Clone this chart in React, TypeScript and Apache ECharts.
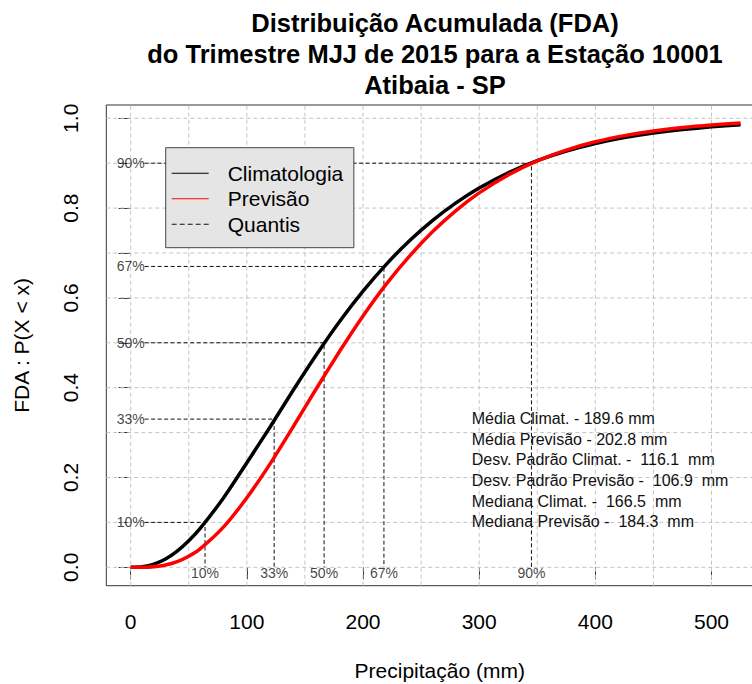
import React, { useEffect, useRef } from "react";
import * as echarts from "echarts";

// Precipitation axis positions (mm) at which the curves were read
const precipMm = [0, 10, 20, 30, 40, 50, 60, 80, 100, 120, 140, 160, 180, 200, 220, 240, 260, 280, 300, 325, 350, 375, 400, 425, 450, 475, 500, 525];
// Cumulative probability, climatology (black)
const climatologia = [0, 0.0012, 0.0069, 0.0184, 0.036, 0.0591, 0.0871, 0.1549, 0.2328, 0.3125, 0.3948, 0.4739, 0.5479, 0.6149, 0.6747, 0.7273, 0.7728, 0.8117, 0.8448, 0.8788, 0.9057, 0.9271, 0.944, 0.957, 0.9671, 0.9749, 0.9809, 0.9855];
// Cumulative probability, forecast (red)
const previsao = [0, 0.0001, 0.0014, 0.0051, 0.0126, 0.0246, 0.0415, 0.0899, 0.155, 0.2304, 0.3136, 0.3987, 0.4816, 0.5597, 0.6305, 0.6929, 0.7477, 0.7945, 0.8339, 0.8739, 0.9052, 0.9292, 0.9476, 0.9614, 0.9718, 0.9795, 0.9851, 0.9893];

// Quantiles of the climatology
const quantilLevels = [0.1, 0.33, 0.5, 0.67, 0.9];
const quantilValues = [64, 123.5, 166.5, 218, 345];
const quantilLabels = ["10%", "33%", "50%", "67%", "90%"];
const quantilLineStart = 12;
const bottomLabelY = -0.0127;

// Axis ranges, ticks and grid
const xMin = -21;
const xMax = 560;
const yMin = -0.041;
const yMax = 1.0296;
const xTicks = [0, 100, 200, 300, 400, 500];
const xGrid = [0, 50, 100, 150, 200, 250, 300, 350, 400, 450, 500, 550];
const yTicks = [0, 0.1, 0.2, 0.3, 0.4, 0.5, 0.6, 0.7, 0.8, 0.9, 1.0];
const yLabels = [0, 0.2, 0.4, 0.6, 0.8, 1.0];

const titleLines = [
  "Distribuição Acumulada (FDA)",
  "do Trimestre MJJ de 2015 para a Estação 10001",
  "Atibaia - SP",
];
const statsLines = [
  "Média Climat. - 189.6 mm",
  "Média Previsão - 202.8 mm",
  "Desv. Padrão Climat. -  116.1  mm",
  "Desv. Padrão Previsão -  106.9  mm",
  "Mediana Climat. -  166.5  mm",
  "Mediana Previsão -  184.3  mm",
];
const legendNames = ["Climatologia", "Previsão", "Quantis"];

const FONT = '"Liberation Sans", Arial, Helvetica, sans-serif';
const LINE_ICON = "path://M0,0h37v1h-37z";
const DASH_ICON = "path://M0,0h5v1h-5zM8,0h5v1h-5zM16,0h5v1h-5zM24,0h5v1h-5zM32,0h5v1h-5z";

export default function App() {
  const ref = useRef<HTMLDivElement>(null);

  useEffect(() => {
    if (!ref.current) return;
    const chart = echarts.init(ref.current, null, { renderer: "svg" });

    const gridV: any[] = [];
    xGrid.forEach((v) => {
      gridV.push([v, yMin], [v, yMax], ["-", "-"]);
    });
    const gridH: any[] = [];
    yTicks.forEach((v) => {
      gridH.push([xMin, v], [xMax, v], ["-", "-"]);
    });

    const quantilSeries = quantilLevels.map((lvl, i) => ({
      type: "line",
      name: "Quantis",
      color: "#111",
      data: [
        [quantilLineStart, lvl],
        [quantilValues[i], lvl],
        [quantilValues[i], 0],
      ],
      symbol: "none",
      silent: true,
      z: 3,
      lineStyle: { color: "#111", width: 1, type: [4, 2.5] },
    }));

    const gridStyle = { color: "#C4C4C4", type: [4, 3], width: 1 };

    const option: any = {
      animation: false,
      textStyle: { fontFamily: FONT },
      grid: {
        left: 106.3,
        top: 105,
        width: 674.9,
        height: 480.7,
        outerBoundsMode: "none",
        containLabel: false,
        show: true,
        borderColor: "#333",
        borderWidth: 1,
        backgroundColor: "transparent",
      },
      legend: {
        data: [
          { name: legendNames[0], icon: LINE_ICON },
          { name: legendNames[1], icon: LINE_ICON },
          { name: legendNames[2], icon: DASH_ICON },
        ],
        orient: "vertical",
        left: 165.7,
        top: 147.7,
        itemWidth: 37,
        itemHeight: 1.4,
        itemGap: 4.5,
        padding: [15.1, 10.6, 12.9, 6],
        backgroundColor: "#E5E5E5",
        borderColor: "#444",
        borderWidth: 1,
        borderRadius: 0,
        selectedMode: false,
        textStyle: {
          fontSize: 21,
          color: "#000",
          fontFamily: FONT,
          lineHeight: 21,
          padding: [0, 0, 0, 14],
        },
      },
      xAxis: {
        type: "value",
        min: xMin,
        max: xMax,
        axisLine: { show: false },
        splitLine: { show: false },
        axisTick: { show: true, customValues: xTicks, length: 12, lineStyle: { color: "#333" } },
        axisLabel: { customValues: xTicks, margin: 25, fontSize: 21, color: "#000", fontFamily: FONT },
        name: "Precipitação (mm)",
        nameLocation: "middle",
        nameGap: 74,
        nameTextStyle: { fontSize: 21, color: "#000", fontFamily: FONT, padding: [0, 8, 0, 0] },
      },
      yAxis: {
        type: "value",
        min: yMin,
        max: yMax,
        axisLine: { show: false },
        splitLine: { show: false },
        axisTick: { show: true, customValues: yTicks, length: 12, lineStyle: { color: "#333" } },
        axisLabel: {
          customValues: yLabels,
          rotate: 90,
          margin: 25,
          fontSize: 21,
          color: "#000",
          fontFamily: FONT,
          formatter: (v: number) => v.toFixed(1),
        },
        name: "FDA : P(X < x)",
        nameLocation: "middle",
        nameGap: 74,
        nameTextStyle: { fontSize: 21, color: "#000", fontFamily: FONT },
      },
      series: [
        {
          type: "line",
          name: "gridV",
          data: gridV,
          symbol: "none",
          silent: true,
          connectNulls: false,
          z: 1,
          lineStyle: gridStyle,
        },
        {
          type: "line",
          name: "gridH",
          data: gridH,
          symbol: "none",
          silent: true,
          connectNulls: false,
          z: 1,
          lineStyle: gridStyle,
        },
        ...quantilSeries,
        {
          type: "line",
          name: "Climatologia",
          color: "#000",
          data: precipMm.map((x, i) => [x, climatologia[i]]),
          symbol: "none",
          smooth: 0.2,
          z: 4,
          lineStyle: { color: "#000", width: 3.5 },
        },
        {
          type: "line",
          name: "Previsão",
          color: "#FF0000",
          data: precipMm.map((x, i) => [x, previsao[i]]),
          symbol: "none",
          smooth: 0.2,
          z: 5,
          lineStyle: { color: "#FF0000", width: 3.5 },
        },
        {
          type: "scatter",
          name: "quantilLabelsLeft",
          data: quantilLabels.map((t, i) => ({ name: t, value: [0, quantilLevels[i]] })),
          symbolSize: 0,
          itemStyle: { color: "transparent" },
          silent: true,
          z: 6,
          label: { show: true, position: "inside", formatter: "{b}", color: "#111", fontSize: 14, fontFamily: FONT },
        },
        {
          type: "scatter",
          name: "quantilLabelsBottom",
          data: quantilLabels.map((t, i) => ({ name: t, value: [quantilValues[i], bottomLabelY] })),
          symbolSize: 0,
          itemStyle: { color: "transparent" },
          silent: true,
          z: 6,
          label: { show: true, position: "inside", formatter: "{b}", color: "#111", fontSize: 14, fontFamily: FONT },
        },
      ],
      graphic: [
        {
          type: "text",
          x: 435,
          y: 7,
          style: {
            text: titleLines.join("\n"),
            fontSize: 25.5,
            fontWeight: "bold",
            fontFamily: FONT,
            fill: "#000",
            align: "center",
            textAlign: "center",
            verticalAlign: "top",
            lineHeight: 31,
          },
        },
        {
          type: "text",
          x: 471.7,
          y: 408,
          z: 10,
          style: {
            text: statsLines.join("\n"),
            fontSize: 16,
            fontFamily: FONT,
            fill: "#111",
            align: "left",
            verticalAlign: "top",
            lineHeight: 20.7,
          },
        },
      ],
    };

    chart.setOption(option);
    return () => chart.dispose();
  }, []);

  return (
    <div
      ref={ref}
      style={{ position: "absolute", left: 0, top: 0, width: 752, height: 684 }}
    />
  );
}
